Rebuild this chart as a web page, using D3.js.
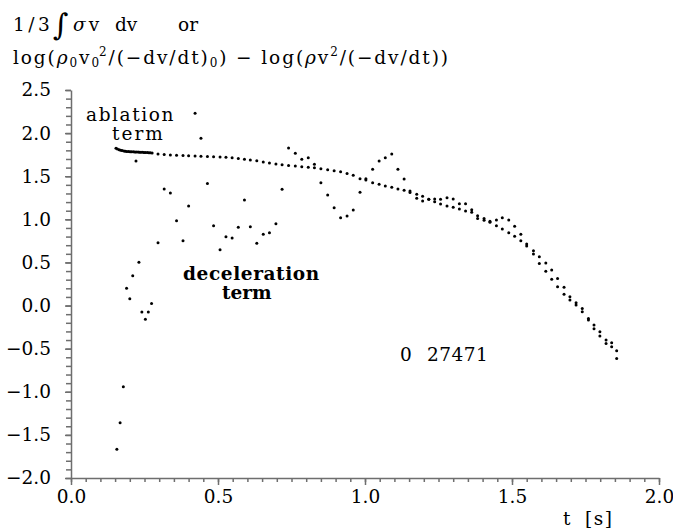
<!DOCTYPE html>
<html>
<head>
<meta charset="utf-8">
<script src="https://cdn.jsdelivr.net/npm/d3@7"></script>
<style>
  body { margin: 0; background: #fff; }
  .axis path, .axis line { stroke: #6e6e6e; stroke-width: 1.5; }
</style>
</head>
<body>
<div id="chart"></div>
<script>
const FONT = "'DejaVu Serif', 'Liberation Serif', serif";

// ablation term (smooth curve)
const ablationT = [
  0.153, 0.158, 0.164, 0.169, 0.174, 0.180, 0.185, 0.190, 0.196, 0.201, 0.206, 0.212,
  0.217, 0.222, 0.228, 0.233, 0.238, 0.244, 0.249, 0.254, 0.260, 0.265, 0.270, 0.276,
  0.296, 0.317, 0.338, 0.359, 0.381, 0.400, 0.422, 0.442, 0.464, 0.485, 0.507, 0.527,
  0.548, 0.569, 0.590, 0.610, 0.632, 0.654, 0.675, 0.697, 0.718, 0.740, 0.763, 0.785,
  0.807, 0.828, 0.850, 0.873, 0.895, 0.917, 0.939, 0.960, 0.983, 1.003, 1.026, 1.048,
  1.069, 1.091, 1.112, 1.133, 1.153, 1.176, 1.196, 1.217, 1.237, 1.257, 1.279, 1.300,
  1.321, 1.342, 1.363, 1.383, 1.405, 1.425, 1.447, 1.467, 1.489, 1.509, 1.530, 1.550,
  1.573, 1.593, 1.615, 1.635, 1.655, 1.677, 1.697, 1.718, 1.739, 1.760, 1.779, 1.799,
  1.820, 1.839, 1.856
];
const ablationV = [
  1.824, 1.815, 1.808, 1.802, 1.797, 1.793, 1.790, 1.788, 1.786, 1.785, 1.784, 1.783,
  1.782, 1.781, 1.780, 1.779, 1.778, 1.777, 1.776, 1.775, 1.774, 1.773, 1.772, 1.770,
  1.758, 1.752, 1.747, 1.744, 1.741, 1.738, 1.735, 1.733, 1.730, 1.727, 1.723, 1.719,
  1.713, 1.706, 1.697, 1.688, 1.678, 1.665, 1.652, 1.642, 1.633, 1.624, 1.618, 1.610,
  1.603, 1.599, 1.587, 1.576, 1.564, 1.552, 1.533, 1.510, 1.471, 1.456, 1.425, 1.406,
  1.386, 1.371, 1.351, 1.336, 1.310, 1.290, 1.267, 1.232, 1.205, 1.178, 1.154, 1.139,
  1.120, 1.096, 1.081, 1.042, 0.988, 0.965, 0.926, 0.887, 0.845, 0.803, 0.752, 0.690,
  0.597, 0.489, 0.397, 0.304, 0.218, 0.130, 0.064, 0.006, -0.072, -0.168, -0.269, -0.354,
  -0.439, -0.477, -0.613
];

// deceleration term (scattered)
const decelT = [
  0.156, 0.167, 0.178, 0.189, 0.200, 0.210, 0.221, 0.231, 0.241, 0.253, 0.263, 0.274,
  0.296, 0.317, 0.338, 0.359, 0.381, 0.400, 0.422, 0.442, 0.464, 0.485, 0.507, 0.527,
  0.548, 0.569, 0.590, 0.610, 0.632, 0.654, 0.675, 0.697, 0.718, 0.740, 0.763, 0.785,
  0.807, 0.828, 0.850, 0.873, 0.895, 0.917, 0.939, 0.960, 0.983, 1.003, 1.026, 1.048,
  1.069, 1.091, 1.112, 1.133, 1.153, 1.176, 1.196, 1.217, 1.237, 1.257, 1.279, 1.300,
  1.321, 1.342, 1.363, 1.383, 1.405, 1.425, 1.447, 1.467, 1.489, 1.509, 1.530, 1.550,
  1.573, 1.593, 1.615, 1.635, 1.655, 1.677, 1.697, 1.718, 1.739, 1.760, 1.779, 1.799,
  1.820, 1.839, 1.856
];
const decelV = [
  -1.668, -1.359, -0.942, 0.200, 0.079, 0.346, 1.676, 0.501, -0.075, -0.160, -0.075, 0.025,
  0.729, 1.351, 1.305, 0.984, 0.752, 1.154, 2.230, 1.940, 1.417, 0.926, 0.647, 0.798,
  0.783, 0.907, 1.224, 0.914, 0.722, 0.826, 0.845, 0.949, 1.348, 1.827, 1.765, 1.696,
  1.715, 1.638, 1.425, 1.282, 1.135, 1.019, 1.038, 1.108, 1.313, 1.470, 1.580, 1.676,
  1.715, 1.758, 1.580, 1.467, 1.330, 1.244, 1.212, 1.232, 1.236, 1.232, 1.251, 1.236,
  1.182, 1.182, 1.112, 1.011, 1.011, 0.977, 0.992, 1.019, 0.992, 0.919, 0.826, 0.713,
  0.636, 0.566, 0.493, 0.412, 0.315, 0.211, 0.102, 0.033, -0.033, -0.149, -0.226, -0.304,
  -0.400, -0.431, -0.524
];

const xMajor = [0, 0.5, 1.0, 1.5, 2.0];
const yMajor = [-2.0, -1.5, -1.0, -0.5, 0.0, 0.5, 1.0, 1.5, 2.0, 2.5];

const width = 673, height = 531;
const fs = 18.5;
const svg = d3.select("#chart").append("svg")
  .attr("width", width)
  .attr("height", height)
  .style("display", "block");

const x = d3.scaleLinear().domain([0, 2]).range([71, 659]);
const y = d3.scaleLinear().domain([-2, 2.5]).range([478, 90]);

// minor ticks
svg.append("g")
  .attr("class", "axis")
  .attr("transform", `translate(0,${y(-2)})`)
  .call(d3.axisBottom(x).tickValues(d3.range(0, 41).map(i => i * 0.05)).tickSize(4).tickFormat(""))
  .call(g => g.select(".domain").remove());
svg.append("g")
  .attr("class", "axis")
  .attr("transform", `translate(${x(0)},0)`)
  .call(d3.axisLeft(y).tickValues(d3.range(0, 46).map(i => -2 + i * 0.1)).tickSize(5).tickFormat(""))
  .call(g => g.select(".domain").remove());

// major ticks + labels
svg.append("g")
  .attr("class", "axis")
  .attr("transform", `translate(0,${y(-2)})`)
  .call(d3.axisBottom(x).tickValues(xMajor).tickSize(7).tickSizeOuter(0).tickPadding(5).tickFormat(d3.format(".1f")))
  .call(g => g.selectAll("text").attr("font-family", FONT).attr("font-size", fs).attr("fill", "#000"));
svg.append("g")
  .attr("class", "axis")
  .attr("transform", `translate(${x(0)},0)`)
  .call(d3.axisLeft(y).tickValues(yMajor).tickSize(6).tickSizeOuter(0).tickPadding(14).tickFormat(d3.format(".1f")))
  .call(g => g.selectAll("text").attr("font-family", FONT).attr("font-size", fs).attr("fill", "#000"));

// points
svg.append("g").selectAll("circle")
  .data(ablationT.map((t, i) => [t, ablationV[i]]))
  .enter().append("circle")
  .attr("cx", d => x(d[0]))
  .attr("cy", d => y(d[1]))
  .attr("r", 1.5)
  .attr("fill", "#000");

svg.append("g").selectAll("circle")
  .data(decelT.map((t, i) => [t, decelV[i]]))
  .enter().append("circle")
  .attr("cx", d => x(d[0]))
  .attr("cy", d => y(d[1]))
  .attr("r", 1.5)
  .attr("fill", "#000");

// title
const title = svg.append("g").attr("font-family", FONT).attr("font-size", fs).attr("fill", "#000");
title.append("text").attr("x", 13).attr("y", 31).attr("letter-spacing", 3.5).text("1/3");
title.append("text").attr("x", 53).attr("y", 35).attr("font-size", 30).text("\u222B");
const s1 = title.append("text").attr("x", 73).attr("y", 31).attr("letter-spacing", 3);
s1.append("tspan").attr("font-style", "italic").text("\u03C3");
s1.append("tspan").text("v");
title.append("text").attr("x", 115).attr("y", 31).text("dv");
title.append("text").attr("x", 178).attr("y", 31).text("or");

const l2 = title.append("text").attr("x", 13).attr("y", 64).attr("letter-spacing", 1.9);
l2.append("tspan").text("log(");
l2.append("tspan").attr("font-style", "italic").text("\u03C1");
l2.append("tspan").attr("font-size", 12).attr("dy", 3).text("0");
l2.append("tspan").attr("dy", -3).text("v");
l2.append("tspan").attr("font-size", 12).attr("dy", 3).attr("letter-spacing", 0).text("0");
l2.append("tspan").attr("font-size", 12).attr("dy", -11).text("2");
l2.append("tspan").attr("dy", 8).text("/(\u2212dv/dt)");
l2.append("tspan").attr("font-size", 12).attr("dy", 3).text("0");
l2.append("tspan").attr("dy", -3).text(")  \u2212  log(");
l2.append("tspan").attr("font-style", "italic").text("\u03C1");
l2.append("tspan").text("v");
l2.append("tspan").attr("font-size", 12).attr("dy", -8).text("2");
l2.append("tspan").attr("dy", 8).text("/(\u2212dv/dt))");

// annotations
const ann = svg.append("g").attr("font-family", FONT).attr("font-size", fs).attr("fill", "#000");
ann.append("text").attr("x", 86).attr("y", 121).attr("letter-spacing", 1.6).text("ablation");
ann.append("text").attr("x", 112).attr("y", 140).attr("letter-spacing", 2).text("term");
ann.append("text").attr("x", 183).attr("y", 280).attr("font-weight", "bold").attr("letter-spacing", 0.6).text("deceleration");
ann.append("text").attr("x", 222).attr("y", 299).attr("font-weight", "bold").text("term");
ann.append("text").attr("x", 400).attr("y", 361).text("0");
ann.append("text").attr("x", 427).attr("y", 361).attr("letter-spacing", 0.5).text("27471");
ann.append("text").attr("x", 563).attr("y", 525).text("t");
ann.append("text").attr("x", 585).attr("y", 525).attr("letter-spacing", 1.5).text("[s]");
</script>
</body>
</html>
